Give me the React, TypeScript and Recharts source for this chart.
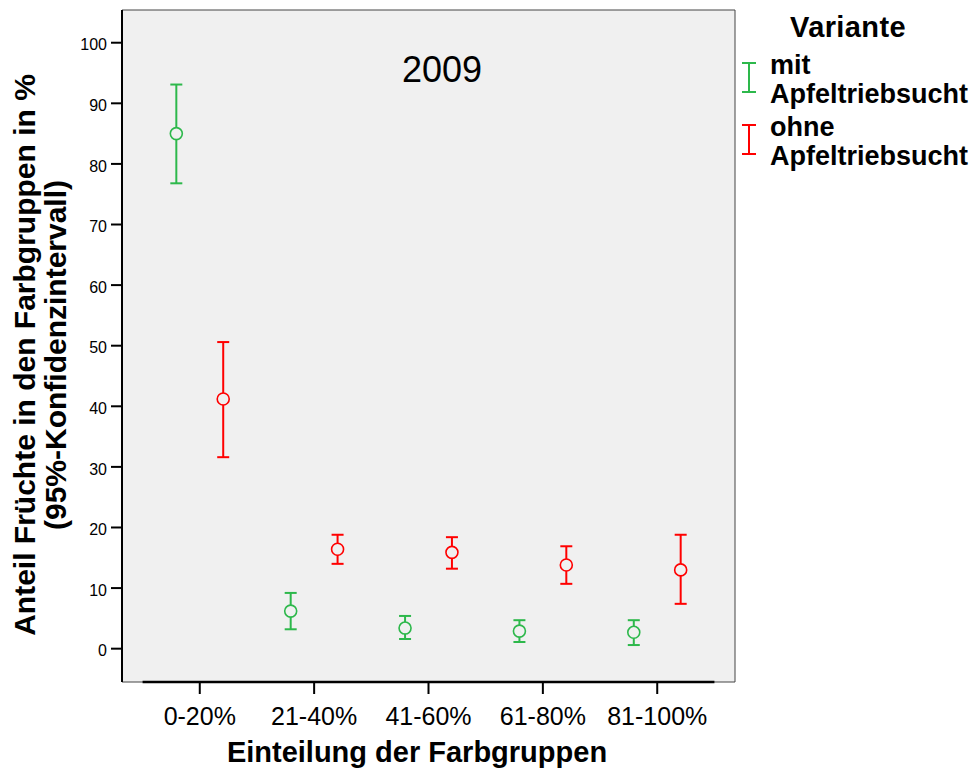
import React from 'react';
import {
  ComposedChart,
  Scatter,
  XAxis,
  YAxis,
  CartesianGrid,
  ErrorBar,
  ReferenceArea,
  ReferenceLine,
  Legend,
} from 'recharts';

// categories on the x axis
const categories = ['0-20%', '21-40%', '41-60%', '61-80%', '81-100%'];

// "mit Apfeltriebsucht": mean and 95% CI bounds
const mitMean = [85.0, 6.2, 3.4, 2.9, 2.7];
const mitLower = [76.8, 3.2, 1.6, 1.1, 0.6];
const mitUpper = [93.1, 9.2, 5.4, 4.7, 4.7];

// "ohne Apfeltriebsucht": mean and 95% CI bounds
const ohneMean = [41.2, 16.4, 15.9, 13.8, 13.0];
const ohneLower = [31.6, 14.0, 13.2, 10.7, 7.4];
const ohneUpper = [50.6, 18.8, 18.4, 16.9, 18.8];

const yTicks = [0, 10, 20, 30, 40, 50, 60, 70, 80, 90, 100];

const FONT = '"Liberation Sans", Arial, Helvetica, sans-serif';
const GREEN = '#2db84b';
const RED = '#ff0000';
const BG = '#f0f0f0';
const X_DOMAIN: [number, number] = [-0.68, 4.68];
const Y_DOMAIN: [number, number] = [-5.5, 105.4];
const SHIFT = 0.205; // side-by-side offset inside a category

const buildSeries = (mean: number[], lower: number[], upper: number[], shift: number) =>
  mean.map((m, i) => ({
    x: i + shift,
    y: m,
    err: [m - lower[i], upper[i] - m],
  }));

const mitData = buildSeries(mitMean, mitLower, mitUpper, -SHIFT);
const ohneData = buildSeries(ohneMean, ohneLower, ohneUpper, SHIFT);

const circleShape = (color: string) => (props: any) => (
  <circle cx={props.cx} cy={props.cy} r={6} fill={BG} stroke={color} strokeWidth={1.6} />
);

const YTitle = () => (
  <g fontFamily={FONT} fontWeight="bold" fontSize={30} fill="#000">
    <text x={35} y={355} textAnchor="middle" transform="rotate(-90, 35, 355)">
      Anteil Früchte in den Farbgruppen in %
    </text>
    <text x={66} y={355} textAnchor="middle" transform="rotate(-90, 66, 355)">
      (95%-Konfidenzintervall)
    </text>
  </g>
);

const XTitle = () => (
  <text x={417} y={762} textAnchor="middle" fontFamily={FONT} fontWeight="bold" fontSize={29} fill="#000">
    Einteilung der Farbgruppen
  </text>
);

const YearLabel = () => (
  <text x={442} y={82} textAnchor="middle" fontFamily={FONT} fontSize={36} fill="#000">
    2009
  </text>
);

const LegendBox = (props: any) => {
  const items = props.payload || [];
  return (
    <svg width={237} height={180} style={{ display: 'block' }}>
      <text x={52} y={37} fontFamily={FONT} fontWeight="bold" fontSize={29} letterSpacing={0.4} fill="#000">
        Variante
      </text>
      {items.map((entry: any, i: number) => {
        const top = 63 + i * 62;
        const name = String(entry.value);
        const cut = name.indexOf(' ');
        const color = entry.color || (i === 0 ? GREEN : RED);
        return (
          <g key={name}>
            <line x1={11} x2={11} y1={top} y2={top + 29} stroke={color} strokeWidth={2} />
            <line x1={4} x2={18} y1={top} y2={top} stroke={color} strokeWidth={2} />
            <line x1={4} x2={18} y1={top + 29} y2={top + 29} stroke={color} strokeWidth={2} />
            <text x={32} y={top + 11} fontFamily={FONT} fontWeight="bold" fontSize={27} fill="#000">
              {name.slice(0, cut)}
            </text>
            <text x={32} y={top + 40} fontFamily={FONT} fontWeight="bold" fontSize={27} fill="#000">
              {name.slice(cut + 1)}
            </text>
          </g>
        );
      })}
    </svg>
  );
};

export default function App() {
  return (
    <div style={{ position: 'absolute', left: 0, top: 0, width: 975, height: 778, background: '#fff' }}>
      <ComposedChart width={975} height={778} margin={{ top: 10, right: 240, bottom: 0, left: 0 }}>
        <CartesianGrid fill={BG} stroke="none" horizontal={false} vertical={false} />
        <ReferenceArea
          x1={X_DOMAIN[0]}
          x2={X_DOMAIN[1]}
          y1={Y_DOMAIN[0]}
          y2={Y_DOMAIN[1]}
          fill="none"
          fillOpacity={0}
          stroke="#444"
          strokeWidth={1}
          ifOverflow="visible"
          label={<YearLabel />}
        />
        <XAxis
          type="number"
          dataKey="x"
          domain={X_DOMAIN}
          allowDataOverflow
          ticks={[0, 1, 2, 3, 4]}
          interval={0}
          tickFormatter={(v: number) => categories[v]}
          axisLine={false}
          tickLine={{ stroke: '#000', strokeWidth: 2 }}
          tickSize={12}
          tickMargin={13}
          height={96}
          tick={{ fontSize: 25, fill: '#000', fontFamily: FONT }}
          label={<XTitle />}
        />
        <YAxis
          type="number"
          dataKey="y"
          domain={Y_DOMAIN}
          allowDataOverflow
          ticks={yTicks}
          interval={0}
          width={122}
          axisLine={{ stroke: '#000', strokeWidth: 2 }}
          tickLine={{ stroke: '#000', strokeWidth: 2 }}
          tickSize={11}
          tickMargin={4}
          tick={{ fontSize: 16, fill: '#000', fontFamily: FONT, dy: 2 }}
          label={<YTitle />}
        />
        <ReferenceLine
          segment={[
            { x: -0.5, y: Y_DOMAIN[0] },
            { x: 4.5, y: Y_DOMAIN[0] },
          ]}
          stroke="#000"
          strokeWidth={2.5}
          ifOverflow="visible"
        />
        <Scatter
          name="mit Apfeltriebsucht"
          data={mitData}
          dataKey="y"
          fill={GREEN}
          shape={circleShape(GREEN)}
          isAnimationActive={false}
        >
          <ErrorBar dataKey="err" direction="y" width={6} stroke={GREEN} strokeWidth={2} />
        </Scatter>
        <Scatter
          name="ohne Apfeltriebsucht"
          data={ohneData}
          dataKey="y"
          fill={RED}
          shape={circleShape(RED)}
          isAnimationActive={false}
        >
          <ErrorBar dataKey="err" direction="y" width={6} stroke={RED} strokeWidth={2} />
        </Scatter>
        <Legend
          layout="vertical"
          align="center"
          verticalAlign="middle"
          content={<LegendBox />}
          wrapperStyle={{ left: 738, top: 0, width: 237, height: 180 }}
        />
      </ComposedChart>
    </div>
  );
}
